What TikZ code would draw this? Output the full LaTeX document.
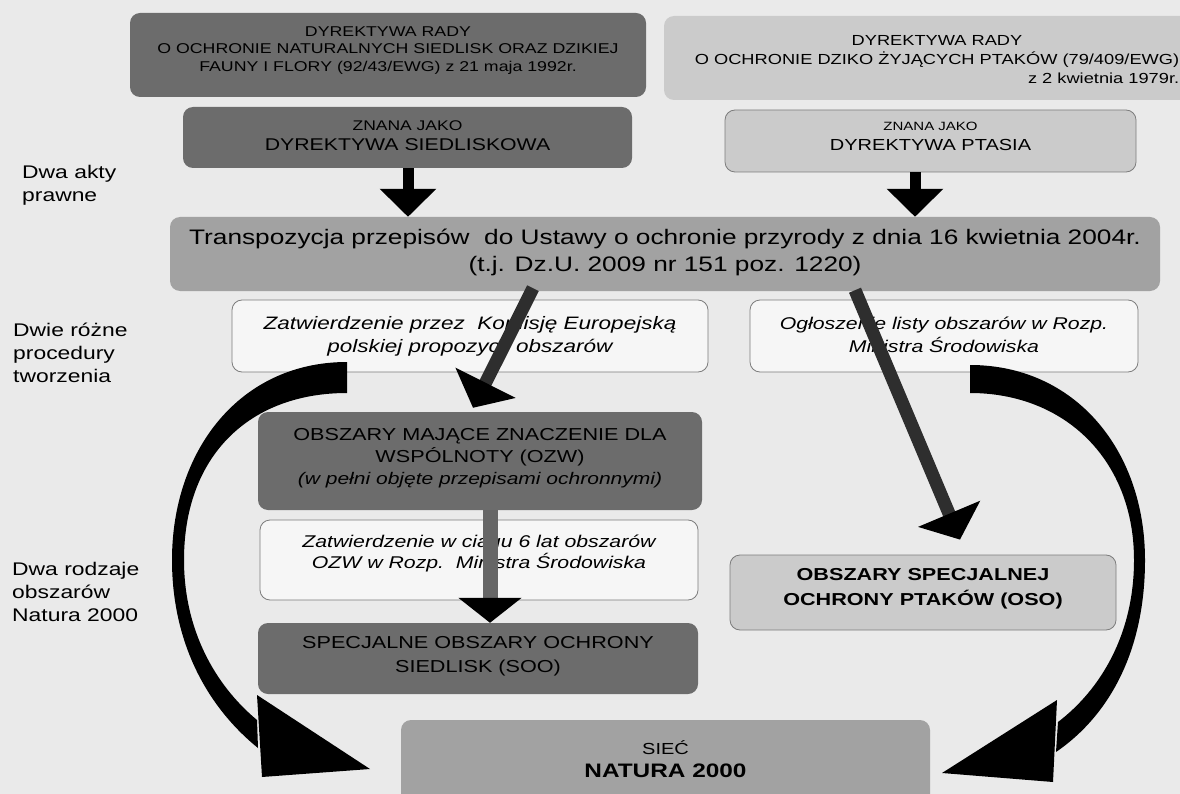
\documentclass[tikz,border=0pt]{standalone}
\usepackage{fontspec}
\setmainfont{Liberation Sans}[FakeStretch=1.25]
\usetikzlibrary{arrows.meta,calc}
\definecolor{paper}{HTML}{EAEAEA}
\definecolor{boxdark}{HTML}{6C6C6C}
\definecolor{boxmid}{HTML}{A2A2A2}
\definecolor{boxlight}{HTML}{CBCBCB}
\definecolor{boxwhite}{HTML}{F6F6F6}
\definecolor{edgegray}{HTML}{7C7C7C}
\definecolor{shaftgray}{HTML}{666666}
\definecolor{diaggray}{HTML}{2E2E2E}
\newcommand\fsz[2]{\fontsize{#1}{#2}\selectfont}
\newcommand\tx[3]{\raisebox{#1}[0pt][0pt]{#2\begin{tabular}{@{}c@{}}#3\end{tabular}}}
\begin{document}
\begin{tikzpicture}[x=1pt,y=-1pt,
  darkbx/.style={rounded corners=10pt, inner sep=0pt, fill=boxdark, text=black},
  midbx/.style={rounded corners=10pt, inner sep=0pt, fill=boxmid, text=black},
  lightbx/.style={rounded corners=10pt, inner sep=0pt, fill=boxlight, draw=edgegray, line width=0.8pt},
  plainlight/.style={rounded corners=10pt, inner sep=0pt, fill=boxlight},
  whitebx/.style={rounded corners=10pt, inner sep=0pt, fill=boxwhite, draw=edgegray, line width=0.8pt},
  lab/.style={anchor=north west, inner sep=0pt, align=left, font=\fsz{18.3pt}{23pt}},
  downarr/.style={draw=black, line width=11pt, -{Triangle[width=55pt,length=28pt]}},
  diagarr/.style={draw=diaggray, line width=13pt, -{Triangle[width=66pt,length=28pt,color=black]}},
  midarr/.style={draw=shaftgray, line width=15pt, -{Triangle[width=62pt,length=25pt,color=black]}}]
\path[use as bounding box] (0,0) rectangle (1180,794);
\clip (0,0) rectangle (1180,794);
\fill[paper] (0,0) rectangle (1180,794);

% left labels
\node[lab] (l1) at (22,165) {Dwa akty\\prawne};
\node[lab] (l2) at (13,323) {Dwie różne\\procedury\\tworzenia};
\node[lab] (l3) at (12,562) {Dwa rodzaje\\obszarów\\Natura 2000};

% top row
\node[darkbx, minimum width=516pt, minimum height=84pt] (d1) at (388,55)
  {\tx{1pt}{\fsz{14.2pt}{17.5pt}}{DYREKTYWA RADY\\O OCHRONIE NATURALNYCH SIEDLISK ORAZ DZIKIEJ\\FAUNY I FLORY (92/43/EWG) z 21 maja 1992r.}};
\node[plainlight, minimum width=546pt, minimum height=84pt] (d2) at (937,58)
  {\tx{-6pt}{\fsz{14.6pt}{19pt}}{DYREKTYWA RADY\\O OCHRONIE DZIKO ŻYJĄCYCH PTAKÓW (79/409/EWG)\\\multicolumn{1}{@{}r@{}}{z 2 kwietnia 1979r.}}};

% second row
\node[darkbx, minimum width=449pt, minimum height=61pt] (s1) at (407.5,137.5)
  {\tx{-3pt}{\fsz{17pt}{20pt}}{{\fsz{14pt}{16pt}ZNANA JAKO}\\DYREKTYWA SIEDLISKOWA}};
\node[lightbx, minimum width=411pt, minimum height=62pt] (s2) at (930.5,141)
  {\tx{0pt}{\fsz{16pt}{20pt}}{{\fsz{12pt}{14pt}ZNANA JAKO}\\DYREKTYWA PTASIA}};

% transposition
\node[midbx, minimum width=990pt, minimum height=74pt] (tp) at (665,254)
  {\tx{-4pt}{\fsz{21pt}{27pt}}{Transpozycja przepisów\ \ do Ustawy o ochronie przyrody z dnia 16 kwietnia 2004r.\\(t.j. Dz.U. 2009 nr 151 poz. 1220)}};

% procedures
\node[whitebx, minimum width=476pt, minimum height=72pt] (wl) at (470,336)
  {\tx{-5pt}{\fsz{18pt}{23pt}\itshape}{Zatwierdzenie przez\ \ Komisję Europejską\\polskiej propozycji obszarów}};
\node[whitebx, minimum width=388pt, minimum height=72pt] (wr) at (944,336)
  {\tx{-5pt}{\fsz{17pt}{23pt}\itshape}{Ogłoszenie listy obszarów w Rozp.\\Ministra Środowiska}};

% left column of areas
\node[darkbx, minimum width=444pt, minimum height=98pt] (oz) at (480,461)
  {\tx{-1pt}{\fsz{17.3pt}{22pt}}{OBSZARY MAJĄCE ZNACZENIE DLA\\WSPÓLNOTY (OZW)\\{\itshape\fsz{16.8pt}{22pt}(w pełni objęte przepisami ochronnymi)}}};
\node[whitebx, minimum width=438pt, minimum height=80pt] (w6) at (479,560)
  {\tx{2pt}{\fsz{17pt}{21pt}\itshape}{Zatwierdzenie w ciągu 6 lat obszarów\\OZW w Rozp.\ \ Ministra Środowiska}};
\node[darkbx, minimum width=440pt, minimum height=71pt] (so) at (478,658.5)
  {\tx{-2pt}{\fsz{17.3pt}{24pt}}{SPECJALNE OBSZARY OCHRONY\\SIEDLISK (SOO)}};

% right area
\node[lightbx, minimum width=386pt, minimum height=75pt] (os) at (923,592.5)
  {\tx{0pt}{\fsz{17.3pt}{25pt}\bfseries}{OBSZARY SPECJALNEJ\\OCHRONY PTAKÓW (OSO)}};

% network
\node[midbx, minimum width=529pt, minimum height=85pt] (na) at (665.5,762.5)
  {\tx{-4pt}{\fsz{19.5pt}{23pt}}{{\fsz{16pt}{23pt}SIEĆ}\\\textbf{NATURA 2000}}};

% straight arrows
\draw[downarr] ([xshift=0.5pt]s1.south) -- ([xshift=0.5pt]s1.south |- tp.north);
\draw[downarr] ([xshift=-15.5pt]s2.south) -- ([xshift=-15.5pt]s2.south |- tp.north);
\draw[diagarr] ([xshift=-132pt,yshift=3pt]tp.south) -- ([xshift=-7pt,yshift=4pt]oz.north);
\draw[diagarr] ([xshift=190pt,yshift=1pt]tp.south) -- ([xshift=37pt,yshift=15pt]os.north);
\draw[midarr] ([xshift=10pt]oz.south) -- ([xshift=10pt]oz.south |- so.north);

% curved arrows from the procedure boxes to the network
\fill[black] (347,362) .. controls (240,362) and (172,450) .. (172,560)
  .. controls (172,640) and (205,705) .. (258,748) -- (257,720)
  .. controls (215,685) and (184,630) .. (184,560)
  .. controls (184,455) and (250,393) .. (347,393) -- cycle;
\fill[black] (257,695) -- (262,777) -- (370,769) -- cycle;
\fill[black] (970,365) .. controls (1075,365) and (1145,450) .. (1145,560)
  .. controls (1145,650) and (1110,715) .. (1056,752) -- (1058,722)
  .. controls (1100,690) and (1134,635) .. (1134,560)
  .. controls (1134,460) and (1065,393) .. (970,393) -- cycle;
\fill[black] (1057,700) -- (1053,782) -- (942,773) -- cycle;
\end{tikzpicture}
\end{document}
